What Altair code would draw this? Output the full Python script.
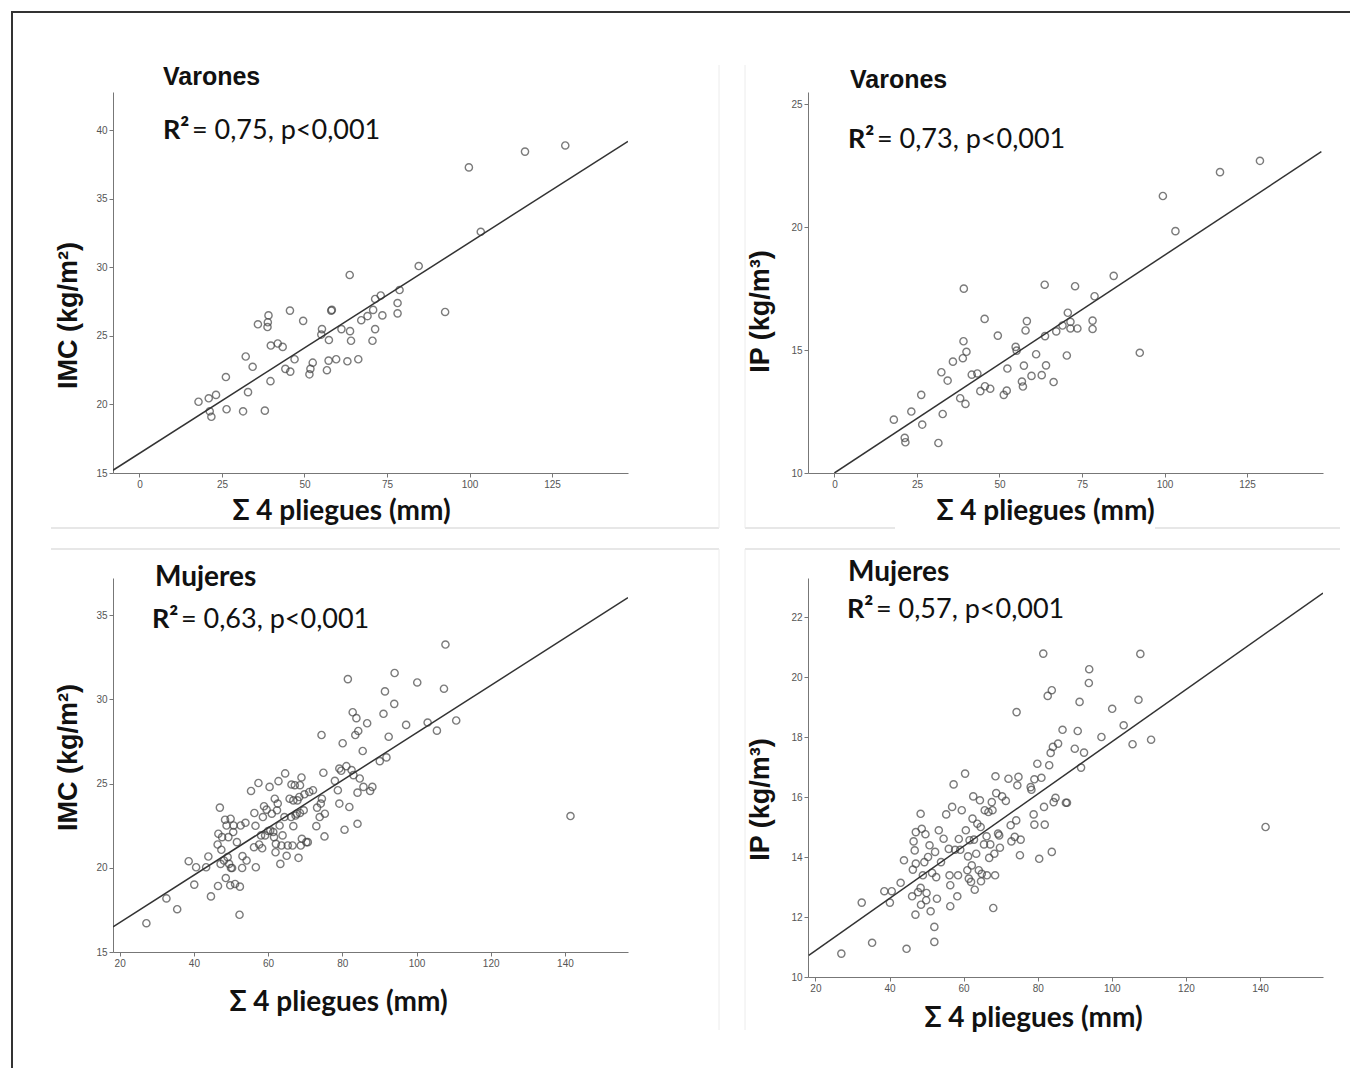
import altair as alt
import pandas as pd

# ---------------- data ----------------
X_TITLE = "Σ 4 pliegues (mm)"

# Varones: IMC vs sum of 4 skinfolds
tl_x = [17.9, 21.0, 23.2, 21.3, 21.8, 26.2, 26.4, 31.4, 32.2, 32.9,
        34.3, 35.9, 38.0, 39.1, 38.9, 38.8, 39.8, 39.7, 41.9, 43.4,
        44.2, 45.7, 45.6, 47.0, 49.6, 51.5, 51.8, 52.5, 55.3, 55.1,
        56.8, 57.4, 57.3, 58.1, 58.3, 59.6, 61.2, 63.0, 63.7, 63.8,
        64.1, 66.3, 67.2, 69.1, 70.6, 70.8, 71.4, 71.4, 73.1, 73.6,
        78.2, 78.2, 78.8, 84.6, 92.6, 99.8, 103.4, 116.8, 129.0]
tl_y = [20.2, 20.45, 20.7, 19.5, 19.1, 22.0, 19.65, 19.5, 23.5, 20.9,
        22.75, 25.85, 19.55, 26.5, 26.0, 25.65, 24.3, 21.7, 24.45, 24.2,
        22.6, 22.4, 26.85, 23.3, 26.1, 22.2, 22.6, 23.05, 25.5, 25.1,
        22.5, 24.7, 23.2, 26.85, 26.9, 23.3, 25.5, 23.15, 29.45, 25.35,
        24.65, 23.3, 26.15, 26.45, 24.65, 26.9, 25.5, 27.7, 27.95, 26.5,
        27.4, 26.65, 28.35, 30.1, 26.75, 37.3, 32.6, 38.45, 38.9]
tl_fit_x = [-8, 148]
tl_fit_y = [15.2, 39.2]

# Varones: IP vs sum of 4 skinfolds
tr_x = [18.0, 21.3, 21.5, 23.3, 26.3, 26.6, 31.5, 32.4, 32.8, 34.3,
        35.9, 38.1, 39.2, 39.1, 38.9, 40.0, 39.7, 41.6, 43.3, 44.2,
        45.5, 45.6, 47.2, 49.5, 51.3, 52.2, 52.4, 54.9, 55.2, 56.8,
        57.1, 57.4, 57.9, 58.3, 59.7, 61.1, 62.8, 63.7, 63.8, 64.1,
        66.4, 67.2, 69.1, 70.4, 70.7, 71.5, 71.5, 72.9, 73.6, 78.2,
        78.2, 78.8, 84.6, 92.5, 99.5, 103.3, 116.8, 128.9]
tr_y = [12.17, 11.43, 11.25, 12.5, 13.18, 11.97, 11.22, 14.1, 12.4, 13.76,
        14.53, 13.04, 17.5, 15.36, 14.67, 14.93, 12.81, 14.0, 14.05, 13.33,
        16.27, 13.53, 13.43, 15.59, 13.18, 13.35, 14.25, 15.13, 14.98, 13.72,
        13.52, 14.37, 15.8, 16.18, 13.95, 14.83, 13.98, 17.66, 15.57, 14.38,
        13.7, 15.76, 16.0, 14.78, 16.52, 16.15, 15.88, 17.6, 15.88, 16.2,
        15.86, 17.19, 18.02, 14.89, 21.27, 19.84, 22.24, 22.7]
tr_fit_x = [0, 147.5]
tr_fit_y = [10.0, 23.07]

# Mujeres: IMC vs sum of 4 skinfolds
bl_x = [27.2, 32.6, 35.5, 38.6, 40.6, 40.1, 43.3, 43.9, 44.6, 46.5,
        46.4, 46.6, 47.0, 47.2, 47.4, 47.6, 48.1, 48.4, 48.6, 48.8,
        49.1, 49.3, 49.5, 49.8, 49.9, 50.0, 50.3, 50.6, 50.7, 51.1,
        51.6, 52.4, 52.3, 52.6, 53.0, 53.1, 53.9, 54.2, 55.4, 56.2,
        56.3, 56.6, 56.7, 57.4, 57.6, 58.1, 58.4, 58.6, 58.9, 59.2,
        59.6, 60.0, 60.4, 60.6, 61.0, 61.4, 61.6, 61.8, 62.0, 62.1,
        62.4, 62.6, 62.8, 63.1, 63.3, 63.6, 63.9, 64.4, 64.6, 65.0,
        65.3, 65.8, 66.2, 66.3, 66.6, 66.8, 66.8, 67.2, 67.4, 67.7,
        67.9, 68.2, 68.4, 68.6, 68.6, 68.8, 69.0, 69.1, 69.6, 69.8,
        70.3, 70.7, 71.1, 72.1, 73.0, 73.2, 73.9, 74.2, 74.4, 74.5,
        74.9, 75.2, 75.3, 78.0, 78.8, 79.2, 79.2, 79.7, 80.1, 80.6,
        81.1, 81.5, 81.9, 82.5, 82.8, 83.0, 83.5, 83.8, 84.1, 84.1,
        84.3, 84.7, 85.5, 85.7, 86.7, 87.5, 88.1, 90.1, 91.1, 91.5,
        91.9, 92.5, 94.0, 94.1, 97.2, 100.2, 103.0, 105.5, 107.4, 107.8,
        110.7, 141.5]
bl_y = [16.71, 18.18, 17.54, 20.39, 20.03, 19.0, 20.03, 20.67, 18.3, 18.92,
        21.38, 22.02, 23.57, 20.23, 21.07, 21.82, 20.43, 22.85, 19.39, 22.51,
        20.63, 21.82, 20.23, 18.96, 22.91, 19.99, 19.99, 22.12, 22.51, 19.04,
        21.52, 18.88, 17.21, 22.51, 19.99, 20.69, 22.67, 20.43, 24.56, 21.22,
        23.25, 22.49, 20.03, 25.03, 21.38, 21.92, 21.16, 23.01, 23.65, 21.92,
        23.45, 22.18, 24.8, 22.22, 23.21, 22.12, 21.82, 24.1, 20.92, 21.42,
        23.41, 23.81, 25.14, 22.51, 20.23, 21.32, 21.92, 23.01, 25.6, 20.71,
        21.32, 24.1, 23.01, 24.94, 21.32, 24.0, 22.47, 24.9, 23.1, 23.21,
        24.0, 20.59, 24.2, 24.9, 23.25, 21.32, 25.36, 21.72, 23.41, 24.36,
        21.52, 21.52, 24.5, 24.6, 22.47, 23.57, 23.01, 23.81, 27.88, 24.1,
        25.64, 21.86, 23.21, 25.16, 24.6, 23.81, 25.89, 25.76, 27.39, 22.26,
        26.03, 31.2, 23.61, 25.8, 29.23, 25.5, 27.88, 28.88, 22.61, 24.46,
        28.12, 25.3, 26.93, 24.8, 28.58, 24.56, 24.8, 26.33, 29.14, 30.47,
        26.55, 27.78, 29.73, 31.56, 28.48, 31.0, 28.62, 28.14, 30.63, 33.25,
        28.74, 23.07]
bl_fit_x = [18.2, 157]
bl_fit_y = [16.49, 36.03]

# Mujeres: IP vs sum of 4 skinfolds
br_x = [27.0, 32.5, 35.3, 38.6, 40.1, 40.6, 43.0, 43.9, 44.6, 46.1,
        46.3, 46.5, 46.8, 47.0, 47.1, 47.1, 47.7, 48.4, 48.5, 48.4,
        48.7, 49.0, 49.4, 49.7, 49.9, 50.0, 50.4, 50.8, 51.1, 51.5,
        52.1, 52.1, 52.3, 52.6, 52.8, 53.3, 53.9, 54.6, 55.3, 56.0,
        56.2, 56.4, 56.4, 56.9, 57.3, 57.7, 58.3, 58.5, 58.7, 59.1,
        59.5, 60.4, 60.6, 61.0, 61.2, 61.4, 61.6, 62.0, 62.2, 62.4,
        62.6, 62.8, 63.0, 63.4, 63.7, 64.1, 64.4, 64.6, 64.7, 64.9,
        65.5, 65.7, 66.2, 66.3, 66.7, 66.9, 67.2, 67.6, 67.8, 68.0,
        68.3, 68.5, 68.6, 68.8, 69.3, 69.6, 69.8, 70.4, 71.4, 72.1,
        72.7, 72.9, 73.8, 74.2, 74.3, 74.5, 74.8, 75.2, 75.4, 78.1,
        78.3, 78.9, 79.1, 79.1, 79.9, 80.4, 81.0, 81.5, 81.7, 81.9,
        82.7, 83.1, 83.5, 83.8, 83.8, 84.1, 84.3, 84.8, 85.5, 86.7,
        87.6, 87.9, 90.0, 90.8, 91.3, 91.7, 92.5, 93.8, 93.9, 97.2,
        100.1, 103.2, 105.6, 107.2, 107.7, 110.6, 141.5]
br_y = [10.78, 12.48, 11.14, 12.86, 12.48, 12.86, 13.14, 13.89, 10.94, 12.69,
        13.58, 14.52, 14.22, 12.08, 14.83, 13.78, 12.83, 15.44, 12.41, 12.97,
        14.94, 13.39, 13.83, 14.76, 12.56, 12.8, 14.0, 14.39, 12.19, 13.47,
        11.67, 11.17, 14.17, 13.33, 12.61, 14.89, 13.83, 14.61, 15.42, 14.27,
        13.39, 13.06, 12.36, 15.67, 16.42, 14.24, 12.69, 13.39, 14.6, 14.24,
        15.56, 16.78, 14.89, 13.56, 14.02, 13.28, 14.56, 13.17, 13.72, 15.28,
        16.02, 14.58, 12.91, 14.11, 15.11, 13.56, 15.89, 15.0, 13.19, 13.44,
        14.42, 15.56, 14.69, 13.39, 15.5, 13.97, 14.42, 15.83, 15.56, 12.3,
        14.11, 13.39, 16.69, 16.13, 14.78, 14.72, 14.31, 16.02, 15.87, 16.61,
        15.06, 14.52, 14.67, 15.22, 18.83, 16.39, 16.67, 14.06, 14.58, 16.33,
        16.24, 15.42, 15.08, 16.59, 17.11, 13.94, 16.64, 20.78, 15.67, 15.08,
        19.37, 17.06, 17.47, 19.56, 14.17, 17.67, 15.83, 15.97, 17.78, 18.24,
        15.81, 15.81, 17.61, 18.2, 19.17, 16.98, 17.48, 19.8, 20.26, 18.0,
        18.94, 18.39, 17.76, 19.24, 20.77, 17.91, 15.0]
br_fit_x = [18.2, 157]
br_fit_y = [10.72, 22.8]

# axis ticks
x_ticks_v = [0, 25, 50, 75, 100, 125]
x_ticks_m = [20, 40, 60, 80, 100, 120, 140]
y_ticks_tl = [15, 20, 25, 30, 35, 40]
y_ticks_tr = [10, 15, 20, 25]
y_ticks_bl = [15, 20, 25, 30, 35]
y_ticks_br = [10, 12, 14, 16, 18, 20, 22]

labels = ["Varones", "Varones", "Mujeres", "Mujeres"]
r2_texts = [" = 0,75, p<0,001", " = 0,73, p<0,001", " = 0,63, p<0,001", " = 0,57, p<0,001"]
y_titles = ["IMC (kg/m²)", "IP (kg/m³)", "IMC (kg/m²)", "IP (kg/m³)"]

ARIAL = "Liberation Sans"
CALIBRI = "Lato"


def txt(s, x, y, font, size, weight="normal", align="left"):
    return alt.Chart(pd.DataFrame({"t": [s]})).mark_text(
        align=align, baseline="middle", font=font, fontSize=size,
        fontWeight=weight, color="#111"
    ).encode(x=alt.value(x), y=alt.value(y), text="t:N")


def rule(x1, x2, y1, y2, color, width):
    return alt.Chart(pd.DataFrame({"a": [0]})).mark_rule(
        color=color, strokeWidth=width
    ).encode(x=alt.value(x1), x2=alt.value(x2), y=alt.value(y1), y2=alt.value(y2))


def panel(px, py, fx, fy, xdom, ydom, xticks, yticks, ytitle,
          ytx, yty, xtx, xty, label, label_font, label_size, lx, ly, r2, rx, ry):
    pts = pd.DataFrame({"x": px, "y": py})
    fit = pd.DataFrame({"x": fx, "y": fy})
    xenc = alt.X("x:Q",
                 scale=alt.Scale(domain=xdom, nice=False, zero=False),
                 axis=alt.Axis(values=xticks, title=X_TITLE, titleX=xtx, titleY=xty,
                               titleAlign="center", titleBaseline="middle",
                               titleFont=CALIBRI, titleFontSize=28, titleFontWeight="bold",
                               titleColor="#111", labelFont=ARIAL, labelFontSize=10,
                               labelColor="#555", tickColor="#777", domainColor="#777",
                               tickSize=4, labelPadding=2, grid=False))
    yenc = alt.Y("y:Q",
                 scale=alt.Scale(domain=ydom, nice=False, zero=False),
                 axis=alt.Axis(values=yticks, title=ytitle, titleX=ytx, titleY=yty,
                               titleAngle=270, titleAlign="center", titleBaseline="middle",
                               titleFont=ARIAL, titleFontSize=27, titleFontWeight="bold",
                               titleColor="#111", labelFont=ARIAL, labelFontSize=10,
                               labelColor="#555", tickColor="#777", domainColor="#777",
                               tickSize=4, labelPadding=2, grid=False))
    points = alt.Chart(pts).mark_point(
        shape="circle", filled=False, size=52, stroke="#444", strokeWidth=1.4
    ).encode(x=xenc, y=yenc)
    line = alt.Chart(fit).mark_line(color="#333", strokeWidth=1.5, clip=True).encode(x=xenc, y=yenc)
    return [points, line,
            txt(label, lx, ly, label_font, label_size, "bold"),
            txt("R²", rx, ry, CALIBRI, 27, "bold"),
            txt(r2, rx + 29, ry, CALIBRI, 27)]


# plot-area geometry (page pixels): TL (113,92) TR (808,92) BL (113,578) BR (808,578)
tl_layers = panel(tl_x, tl_y, tl_fit_x, tl_fit_y, [-8, 148], [15, 42.8], x_ticks_v, y_ticks_tl,
                  y_titles[0], -45, 223, 228, 38, labels[0], ARIAL, 25, 50, -15, r2_texts[0], 50, 39)
tr_layers = panel(tr_x, tr_y, tr_fit_x, tr_fit_y, [-8, 148], [10, 25.5], x_ticks_v, y_ticks_tr,
                  y_titles[1], -48, 219, 237, 38, labels[1], ARIAL, 25, 42, -12, r2_texts[1], 40, 48)
bl_layers = panel(bl_x, bl_y, bl_fit_x, bl_fit_y, [18.2, 157], [15, 37.2], x_ticks_m, y_ticks_bl,
                  y_titles[2], -45, 179, 225, 50, labels[2], CALIBRI, 28, 42, 0, r2_texts[2], 39, 42)
br_layers = panel(br_x, br_y, br_fit_x, br_fit_y, [18.0, 157], [10, 23.3], x_ticks_m, y_ticks_br,
                  y_titles[3], -48, 221, 225, 41, labels[3], CALIBRI, 28, 40, -5, r2_texts[3], 39, 32)

# frame and panel separators (relative to TL plot origin)
deco = [
    rule(-102, 1237, -80, -80, "#333", 2),
    rule(-101, -101, -81, 976, "#333", 2),
    rule(-62, 606, 436, 436, "#cfcfcf", 1),
    rule(-62, 606, 457, 457, "#cfcfcf", 1),
    rule(632, 782, 436, 436, "#cfcfcf", 1),
    rule(1042, 1227, 436, 436, "#cfcfcf", 1),
    rule(632, 1227, 457, 457, "#cfcfcf", 1),
    rule(606, 606, -27, 436, "#ececec", 1),
    rule(632, 632, -27, 436, "#ececec", 1),
    rule(606, 606, 457, 938, "#ececec", 1),
    rule(632, 632, 457, 938, "#ececec", 1),
]

tl = alt.layer(*deco, *tl_layers).properties(width=515, height=381)
tr = alt.layer(*tr_layers).properties(width=515, height=381)
bl = alt.layer(*bl_layers).properties(width=515, height=374)
br = alt.layer(*br_layers).properties(width=515, height=399)

chart = alt.concat(
    tl, tr, bl, br, columns=2,
    spacing={"row": 105, "column": 180}, bounds="flush"
).properties(
    padding={"left": 1, "top": 1, "right": 0, "bottom": 0}
).configure_view(stroke="transparent")

chart.save("out.html", embed_options={"renderer": "svg", "actions": False})
